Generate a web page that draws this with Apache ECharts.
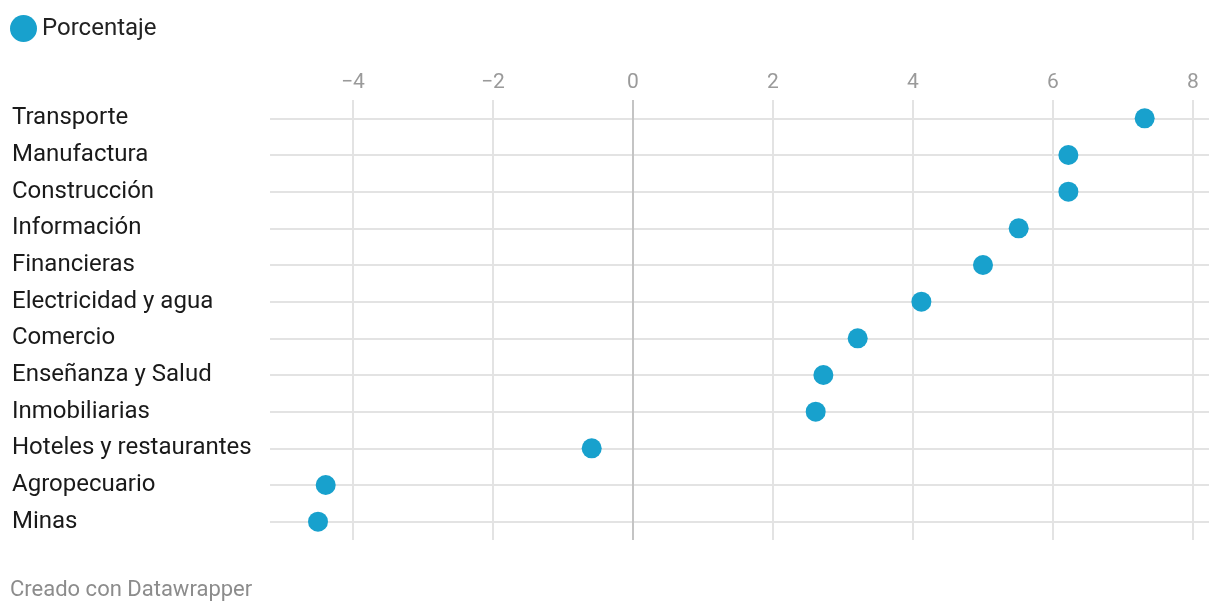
<!DOCTYPE html>
<html>
<head>
<meta charset="utf-8">
<script src="https://cdn.jsdelivr.net/npm/echarts@6/dist/echarts.min.js"></script>
<style>
html,body{margin:0;padding:0;background:#fff;}
#chart{width:1220px;height:614px;}
</style>
</head>
<body>
<div id="chart"></div>
<script>
const categories = ['Transporte','Manufactura','Construcción','Información','Financieras','Electricidad y agua','Comercio','Enseñanza y Salud','Inmobiliarias','Hoteles y restaurantes','Agropecuario','Minas'];
const porcentaje = [7.31, 6.22, 6.22, 5.51, 5.0, 4.12, 3.21, 2.72, 2.61, -0.59, -4.39, -4.5];
const tickValues = [-4, -2, 0, 2, 4, 6, 8];
const seriesName = 'Porcentaje';
const footer = 'Creado con Datawrapper';

const FONT = 'Roboto, "Noto Sans", sans-serif';
const chart = echarts.init(document.getElementById('chart'), null, {renderer: 'canvas'});

const vLines = tickValues.map(v => ({
  xAxis: v,
  lineStyle: {color: v === 0 ? '#c4c4c4' : '#e3e3e3', width: 2, type: 'solid'},
  label: {show: true, position: 'start', formatter: String(v).replace('-', '\u2212'), color: '#9a9a9a', fontSize: 21, fontFamily: FONT, distance: 7}
}));
const hLines = categories.map(c => ({
  yAxis: c,
  lineStyle: {color: '#e3e3e3', width: 2, type: 'solid'},
  label: {show: false}
}));

chart.setOption({
  animation: false,
  backgroundColor: '#fff',
  title: {
    text: footer,
    left: 5, bottom: 8,
    textStyle: {color: '#8c8c8c', fontSize: 22, fontWeight: 'normal', fontFamily: FONT}
  },
  legend: {
    left: 5, top: 10,
    icon: 'circle',
    itemWidth: 27, itemHeight: 27,
    textStyle: {color: '#222', fontSize: 24, fontFamily: FONT},
    data: [seriesName]
  },
  grid: {left: 270, right: 11, top: 100, bottom: 74, containLabel: false},
  xAxis: {
    type: 'value',
    min: -5.186, max: 8.229,
    axisLine: {show: false}, axisTick: {show: false},
    axisLabel: {show: false}, splitLine: {show: false}
  },
  yAxis: {
    type: 'category',
    inverse: true,
    data: categories,
    axisLine: {show: false}, axisTick: {show: false}, splitLine: {show: false},
    axisLabel: {align: 'left', margin: 258, color: '#1a1a1a', fontSize: 24, fontFamily: FONT, padding: [4, 0, 0, 0]}
  },
  series: [
    {
      type: 'scatter',
      name: 'grid-lines',
      data: [],
      z: 1,
      silent: true,
      markLine: {
        silent: true,
        symbol: ['none', 'none'],
        animation: false,
        data: hLines.concat(vLines)
      }
    },
    {
      type: 'scatter',
      name: seriesName,
      data: porcentaje.map((v, i) => [v, categories[i]]),
      symbolSize: 20,
      z: 5,
      itemStyle: {color: '#18a1cd', opacity: 1}
    }
  ]
});
</script>
</body>
</html>
